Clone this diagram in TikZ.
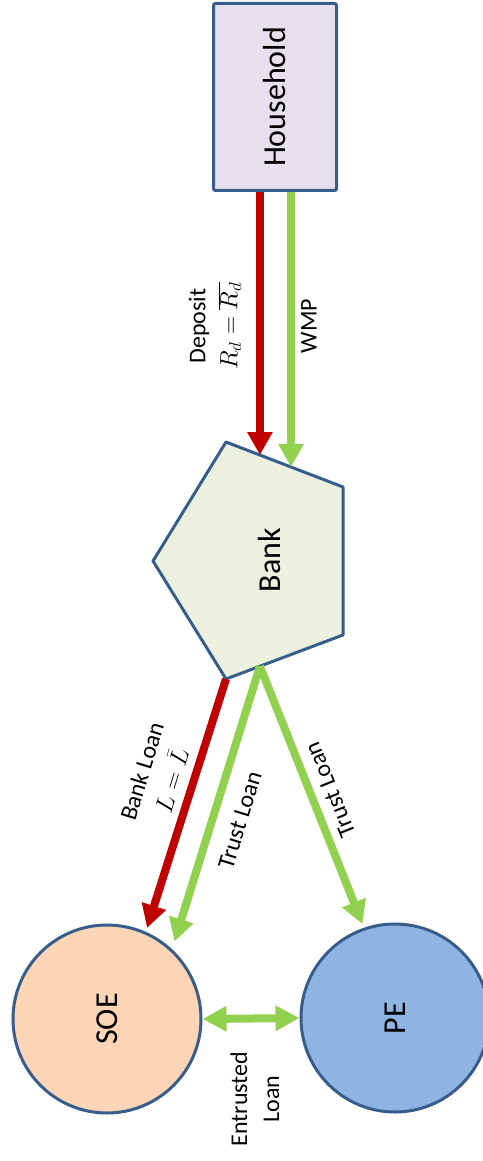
\documentclass[tikz,border=0pt]{standalone}
\usepackage{fontspec}
\setmainfont{Carlito}
\usetikzlibrary{arrows.meta,calc}
\definecolor{edgeblue}{HTML}{385D8A}
\definecolor{loanred}{HTML}{C00000}
\definecolor{loangreen}{HTML}{92D050}
\definecolor{hhfill}{HTML}{E6E0EC}
\definecolor{bankfill}{HTML}{EBF1DE}
\definecolor{soefill}{HTML}{FBD5B5}
\definecolor{pefill}{HTML}{8EB4E3}
\tikzset{agent/.style={draw=edgeblue, line width=3pt, inner sep=0pt, text=black, font=\fontsize{32}{38}\selectfont},
  firm/.style={agent, circle, minimum size=188pt},
  flow/.style={line width=8pt, -{Triangle[width=24pt,length=23pt]}},
  redflow/.style={flow, loanred},
  greenflow/.style={flow, loangreen},
  lbl/.style={font=\fontsize{24}{32}\selectfont, align=center, inner sep=0pt}}

\begin{document}
\begin{tikzpicture}[x=1pt,y=-1pt]
    \useasboundingbox (0,0) rectangle (482,1161);
    \node[agent, rectangle, rounded corners=2pt, fill=hhfill, minimum width=123pt, minimum height=187pt] (household) at (275,97) {\rotatebox{90}{Household}};
    \coordinate (b1) at (153,561);
    \coordinate (b2) at (226,442);
    \coordinate (b3) at (343,487);
    \coordinate (b4) at (343,635);
    \coordinate (b5) at (226,679);
    \draw[draw=edgeblue, line width=3pt, fill=bankfill, line join=round] (b1) -- (b2) -- (b3) -- (b4) -- (b5) -- cycle;
    \node[lbl, font=\fontsize{32}{38}\selectfont, rotate=90] (bank) at (270,560) {Bank};
    \node[firm, fill=soefill] (soe) at (107,1019) {\rotatebox{90}{SOE}};
    \node[firm, fill=pefill] (pe) at (395,1018) {\rotatebox{90}{PE}};
    \coordinate (bank dep) at ($(b2)!0.29!(b3)$);
    \coordinate (bank wmp) at ($(b2)!0.556!(b3)$);
    \coordinate (bank out) at ($(b5)!0.29!(b4)$);
    \draw[redflow] (household.south -| bank dep) -- (bank dep);
    \draw[greenflow] (household.south -| bank wmp) -- (bank wmp);
    \draw[redflow, shorten >=4pt] (b5) -- (soe.66);
    \draw[greenflow, shorten >=8pt] (bank out) -- (soe.47);
    \draw[greenflow, shorten >=4pt] (bank out) -- (pe.109);
    \draw[greenflow, {Triangle[width=24pt,length=24pt]}-{Triangle[width=24pt,length=24pt]}] (soe.east) -- (pe.west);
    \node[lbl, rotate=90] (deposit) at (215,326) {Deposit\\$R_d=\overline{R_d}$};
    \node[lbl, rotate=90] (wmp) at (309,326) {WMP};
    \node[lbl, rotate=73] (bankloan) at (157,776) {Bank Loan\\$L=\bar{L}$};
    \node[lbl, rotate=73] (trust soe) at (240,820) {Trust Loan};
    \node[lbl, rotate=112] (trust pe) at (330,790) {Trust Loan};
    \node[lbl, rotate=90] (entrusted) at (255,1099) {Entrusted\\Loan};
\end{tikzpicture}
\end{document}
